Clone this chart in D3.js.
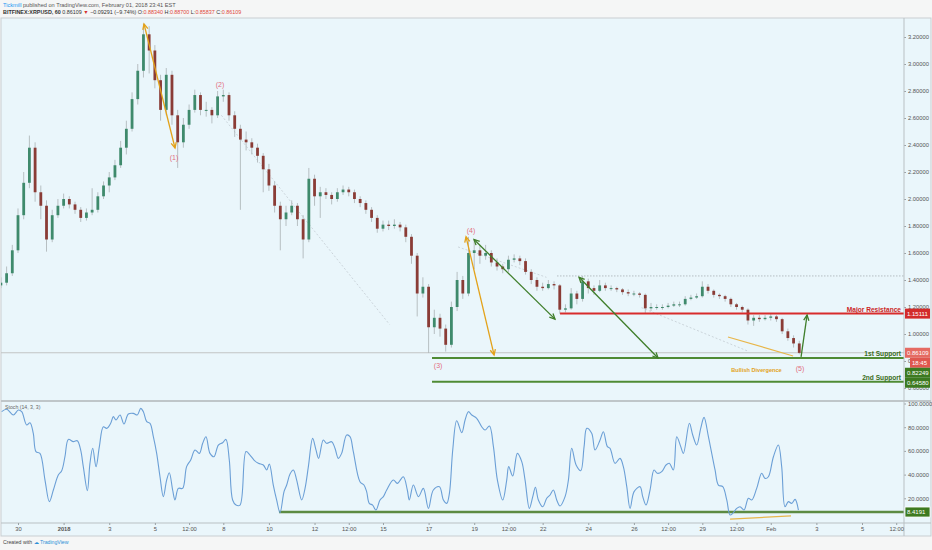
<!DOCTYPE html>
<html>
<head>
<meta charset="utf-8">
<script src="https://cdn.jsdelivr.net/npm/d3@7"></script>
<style>
  body { margin: 0; background: #f5f6f6; }
  svg { display: block; font-family: "Liberation Sans", Arial, sans-serif; }
</style>
</head>
<body>
<div id="chart"></div>
<script>
// ---------- data (hours are counted from 2017-12-29 00:00 UTC) ----------
const startTime = Date.UTC(2017, 11, 29);
const firstBarHour = 6;
const barHours = 6;
const firstOpen = 1.36;

const closes = [1.38,1.45,1.62,1.88,2.12,2.38,2.05,1.95,1.70,1.88,
  1.95,2.00,1.96,1.92,1.86,1.90,1.92,2.02,2.10,2.16,
  2.25,2.38,2.52,2.74,2.95,3.22,3.10,2.88,2.66,2.92,
  2.62,2.42,2.55,2.66,2.77,2.66,2.66,2.62,2.76,2.77,
  2.62,2.52,2.44,2.42,2.38,2.32,2.22,2.10,1.95,1.85,
  1.90,1.95,1.85,1.70,2.15,2.02,2.05,2.03,2.00,2.05,
  2.07,2.05,2.00,1.97,1.92,1.86,1.78,1.81,1.80,1.81,
  1.79,1.72,1.58,1.30,1.35,1.05,1.12,1.04,0.92,1.20,
  1.40,1.30,1.60,1.62,1.58,1.60,1.53,1.50,1.48,1.55,
  1.56,1.54,1.46,1.40,1.35,1.34,1.37,1.36,1.18,1.19,
  1.30,1.26,1.39,1.34,1.32,1.36,1.34,1.34,1.33,1.31,
  1.30,1.30,1.29,1.19,1.20,1.20,1.20,1.21,1.22,1.22,
  1.26,1.27,1.28,1.35,1.32,1.29,1.28,1.26,1.22,1.20,
  1.18,1.10,1.12,1.11,1.12,1.13,1.11,1.02,0.97,0.93,
  0.86];
const highs = [1.42,1.50,1.66,1.93,2.20,2.47,2.42,2.10,1.99,1.92,
  2.00,2.04,2.02,1.98,1.94,1.93,2.08,2.05,2.13,2.20,
  2.29,2.43,2.58,2.79,3.00,3.30,3.28,3.14,2.92,2.97,
  2.95,2.66,2.60,2.70,2.81,2.79,2.72,2.68,2.80,2.81,
  2.79,2.65,2.55,2.50,2.45,2.41,2.34,2.26,2.13,1.98,
  1.95,1.99,1.97,1.88,2.23,2.18,2.09,2.08,2.05,2.08,
  2.10,2.09,2.07,2.02,1.99,1.94,1.88,1.84,1.84,1.85,
  1.83,1.81,1.74,1.60,1.42,1.37,1.18,1.15,1.07,1.24,
  1.46,1.43,1.72,1.70,1.66,1.66,1.62,1.56,1.52,1.58,
  1.59,1.58,1.56,1.48,1.42,1.38,1.40,1.39,1.37,1.22,
  1.34,1.32,1.43,1.41,1.36,1.40,1.38,1.36,1.35,1.34,
  1.33,1.32,1.31,1.30,1.23,1.22,1.22,1.23,1.24,1.24,
  1.28,1.29,1.30,1.39,1.37,1.33,1.30,1.29,1.27,1.23,
  1.21,1.19,1.14,1.14,1.14,1.15,1.14,1.12,1.04,0.99,
  0.95];
const lows = [1.34,1.36,1.43,1.60,1.85,2.08,1.98,1.85,1.61,1.68,
  1.86,1.93,1.93,1.89,1.83,1.84,1.88,1.90,2.00,2.05,
  2.14,2.23,2.33,2.50,2.70,2.90,2.93,2.82,2.58,2.62,
  2.55,2.23,2.38,2.52,2.64,2.62,2.61,2.56,2.60,2.72,
  2.58,2.46,1.92,2.36,2.33,2.27,2.05,2.06,1.90,1.62,
  1.80,1.88,1.80,1.56,1.68,1.95,1.86,2.00,1.96,1.98,
  2.03,2.02,1.97,1.94,1.89,1.83,1.75,1.76,1.77,1.78,
  1.76,1.68,1.52,1.13,1.27,0.86,1.00,0.98,0.87,0.90,
  1.17,1.26,1.28,1.48,1.52,1.55,1.50,1.47,1.45,1.46,
  1.53,1.51,1.44,1.37,1.32,1.32,1.33,1.33,1.15,1.16,
  1.18,1.22,1.24,1.30,1.29,1.31,1.32,1.32,1.31,1.29,
  1.28,1.28,1.27,1.15,1.17,1.18,1.18,1.19,1.20,1.20,
  1.21,1.25,1.26,1.27,1.30,1.27,1.26,1.24,1.20,1.18,
  1.16,1.07,1.06,1.09,1.10,1.10,1.09,1.00,0.95,0.90,
  0.85];

const stochHours = [6.8,12.1,19.1,24.4,27.9,33.1,36.6,40.1,42.9,47.1,
  52.4,57.0,61.2,66.4,70.0,73.4,77.0,82.2,86.4,89.9,
  92.7,97.0,99.7,102.6,106.1,109.6,113.8,117.3,121.5,124.3,
  127.1,131.3,135.5,140.1,145.3,149.5,153.1,155.9,159.4,162.9,
  166.4,169.9,173.4,176.9,180.4,183.2,186.7,189.2,192.7,197.2,
  201.4,205.7,210.2,214.8,218.3,221.8,226.0,230.2,234.8,239.3,
  242.8,246.3,249.8,253.4,257.6,263.9,268.1,272.3,276.9,282.1,
  285.6,288.4,292.6,296.1,299.7,303.9,306.7,310.2,313.7,317.2,
  322.5,326.0,329.5,334.0,337.5,340.3,345.2,348.7,354.0,357.5,
  361.0,364.5,369.8,373.3,376.8,383.8,388.0,390.8,393.6,397.1,
  400.6,404.9,408.4,411.9,418.9,423.1,429.4,433.6,435.7,440.0,
  445.3,450.5,455.8,461.0,467.4,471.6,475.1,477.9,481.4,485.6,
  490.9,494.4,497.9,501.4,506.6,511.9,515.4,520.0,524.2,528.4,
  534.0,538.2,540.3,544.5,549.4,554.0,557.5,562.0,565.6,568.4,
  571.5,576.1,580.3,583.8,587.3,590.8,594.3,599.6,603.1,606.6,
  611.2,616.1,619.6,622.4,627.6,631.1,636.4,639.9,644.1,646.9,
  652.2,657.4,660.9,664.5,668.0,672.2,678.5,681.3,684.8,689.0,
  693.2,696.7,701.3,705.8,709.3,713.5,717.1,721.3,724.1,730.4,
  733.9,738.1,742.3,745.8,750.4,753.9,757.4,760.9,765.5,769.7,
  773.2,776.0,780.2,783.7,787.9,792.5,796.0,801.2,806.5,810.0,
  813.5,818.8,824.0,827.5,831.0,834.5,838.0,841.6,845.1];
const stochK = [93.1,95.1,90.3,94.5,93.1,81.9,83.8,74.8,59.4,57.9,
  35.4,17.2,27.0,39.7,43.3,55.1,69.7,67.8,68.6,60.8,
  46.7,26.5,49.5,62.2,46.7,63.6,80.4,79.0,83.3,88.9,
  86.1,90.3,82.7,91.1,91.7,90.3,95.9,93.1,84.7,83.3,
  72.0,57.9,38.2,21.4,35.4,41.6,27.0,18.6,28.4,28.4,
  46.7,52.3,60.8,57.9,66.4,72.0,57.9,55.1,64.9,66.9,
  69.7,52.3,18.6,14.3,14.3,59.4,56.5,52.3,49.5,48.1,
  43.9,48.9,31.2,18.6,7.9,25.6,31.2,40.5,43.9,35.4,
  18.6,28.4,46.7,70.6,60.8,53.7,69.2,66.4,67.8,62.2,
  53.7,57.9,73.4,72.0,59.4,34.0,31.2,25.6,15.7,14.3,
  10.1,18.6,21.4,27.0,35.4,32.6,38.2,27.0,18.6,31.2,
  21.4,28.4,11.5,27.0,29.8,18.6,15.7,24.2,60.8,85.5,
  75.4,86.1,93.1,90.3,87.5,80.4,77.6,81.0,63.6,35.4,
  18.6,35.4,46.7,38.8,57.9,50.9,35.4,11.5,21.4,29.3,
  18.6,12.9,20.0,22.8,27.0,18.6,13.5,21.4,35.4,62.2,
  48.1,43.3,63.6,79.0,74.8,60.8,69.2,76.2,63.6,62.2,
  49.5,53.7,46.7,29.8,11.5,25.6,29.8,21.4,14.3,27.0,
  43.9,41.1,42.5,48.1,49.5,43.9,72.0,63.6,57.9,83.3,
  73.4,65.0,79.0,88.3,72.0,57.9,43.9,31.2,29.8,18.6,
  5.9,7.3,11.5,12.9,10.1,20.0,18.6,28.4,41.1,36.8,
  38.2,55.1,65.0,46.7,12.9,17.2,15.7,19.1,10.1];

const priceTicks = [0.6,0.8,1.0,1.2,1.4,1.6,1.8,2.0,2.2,2.4,2.6,2.8,3.0,3.2];
const stochTicks = [20, 40, 60, 80, 100];
const timeTicks = ["2017-12-30T00:00Z","2018-01-01T00:00Z","2018-01-03T00:00Z","2018-01-05T00:00Z",
  "2018-01-06T12:00Z","2018-01-08T00:00Z","2018-01-10T00:00Z","2018-01-12T00:00Z","2018-01-13T12:00Z",
  "2018-01-15T00:00Z","2018-01-17T00:00Z","2018-01-19T00:00Z","2018-01-20T12:00Z","2018-01-22T00:00Z",
  "2018-01-24T00:00Z","2018-01-26T00:00Z","2018-01-27T12:00Z","2018-01-29T00:00Z","2018-01-30T12:00Z",
  "2018-02-01T00:00Z","2018-02-03T00:00Z","2018-02-05T00:00Z","2018-02-06T12:00Z"];
const timeTickLabels = ["30","2018","3","5","12:00","8","10","12","12:00","15","17","19","12:00",
  "22","24","26","12:00","29","12:00","Feb","3","5","12:00"];

const lastPrice = 0.86109;
const resistance = 1.15111;
const support1 = 0.82249;
const support2 = 0.64580;
const boxTop = 1.43;
const stochSupport = 8.4191;

// annotations in data units: [hour, price]
const yellowArrows = [[[156.6, 3.296], [189.2, 2.378]], [[495.4, 1.72], [524.9, 0.845]]];
const greenArrows = [[[503.8, 1.70], [589.0, 1.11]], [[614.3, 1.42], [697.4, 0.822]]];
const upArrow = [[847.9, 0.83], [854.2, 1.14]];
const divergencePrice = [[771.0, 0.978], [839.5, 0.837]];
const divergenceStoch = [[773.2, 2.5], [837.3, 5.1]];
const faintLines = [[[238, 2.62], [415, 1.07]], [[487, 1.645], [580, 1.42]], [[680, 1.195], [793, 0.87]]];
const waveLabels = [["(1)", 188.1, 2.31], ["(2)", 236.5, 2.85], ["(3)", 466, 0.763], ["(4)", 500.6, 1.77], ["(5)", 846.8, 0.748]];
const levelStart = {resistance: 594.3, support: 459.6, box: 591.1, stoch: 298.6};

// ---------- layout ----------
const W = 932, H = 550;
const pane = {left: 1, right: 904, top: 18, mainBottom: 400, stochTop: 402, bottom: 523};
const hourToDate = h => new Date(startTime + h * 3600000);

const x = d3.scaleUtc()
  .domain([new Date(Date.UTC(2017, 11, 30)), new Date(Date.UTC(2018, 1, 5))])
  .range([18, 862]);
const y = d3.scaleLinear().domain([0.6, 3.2]).range([388, 37]);
const ys = d3.scaleLinear().domain([0, 100]).range([522, 403.5]);

const candles = closes.map((c, i) => ({
  t: hourToDate(firstBarHour + i * barHours),
  o: i === 0 ? firstOpen : closes[i - 1],
  h: highs[i], l: lows[i], c: c
}));

const svg = d3.select("#chart").append("svg").attr("width", W).attr("height", H);

svg.append("rect").attr("width", W).attr("height", H).attr("fill", "#f5f6f6");
svg.append("rect").attr("x", pane.left).attr("y", pane.top)
  .attr("width", W - 2).attr("height", pane.bottom - pane.top + 13)
  .attr("fill", "#eaf6fb").attr("stroke", "#c9ced1");

const defs = svg.append("defs");
defs.append("clipPath").attr("id", "clipMain").append("rect")
  .attr("x", pane.left).attr("y", pane.top).attr("width", pane.right - pane.left).attr("height", pane.mainBottom - pane.top);
defs.append("clipPath").attr("id", "clipStoch").append("rect")
  .attr("x", pane.left).attr("y", pane.stochTop).attr("width", pane.right - pane.left).attr("height", pane.bottom - pane.stochTop);

// header
const head1 = svg.append("text").attr("x", 3).attr("y", 7).attr("font-size", 5.6).attr("fill", "#555");
head1.append("tspan").attr("fill", "#2196f3").text("Tickmill");
head1.append("tspan").text(" published on TradingView.com, February 01, 2018 23:41 EST");
const head2 = svg.append("text").attr("x", 3).attr("y", 14).attr("font-size", 5.4).attr("fill", "#333");
head2.append("tspan").attr("font-weight", "bold").text("BITFINEX:XRPUSD, 60 ");
head2.append("tspan").text("0.86109 ");
head2.append("tspan").attr("fill", "#d32f2f").text("▼");
head2.append("tspan").text(" −0.09291 (−9.74%) O:");
head2.append("tspan").attr("fill", "#e0473a").text("0.88340");
head2.append("tspan").text(" H:");
head2.append("tspan").attr("fill", "#e0473a").text("0.88700");
head2.append("tspan").text(" L:");
head2.append("tspan").attr("fill", "#e0473a").text("0.85837");
head2.append("tspan").text(" C:");
head2.append("tspan").attr("fill", "#e0473a").text("0.86109");

// ---------- main pane ----------
const main = svg.append("g").attr("clip-path", "url(#clipMain)");

const pt = p => [x(hourToDate(p[0])), y(p[1])];

faintLines.forEach(l => {
  main.append("line")
    .attr("x1", pt(l[0])[0]).attr("y1", pt(l[0])[1]).attr("x2", pt(l[1])[0]).attr("y2", pt(l[1])[1])
    .attr("stroke", "#c3ccd2").attr("stroke-width", 0.8).attr("stroke-dasharray", "2,2");
});

// last price line
main.append("line").attr("x1", pane.left).attr("x2", pane.right)
  .attr("y1", y(lastPrice)).attr("y2", y(lastPrice)).attr("stroke", "#c2c4c4").attr("stroke-width", 1);

// dotted box top
main.append("line").attr("x1", x(hourToDate(levelStart.box))).attr("x2", pane.right)
  .attr("y1", y(boxTop)).attr("y2", y(boxTop)).attr("stroke", "#a9b0b4").attr("stroke-width", 0.8)
  .attr("stroke-dasharray", "1.5,1.5");

// candles
const bw = 2.8;
main.append("g").selectAll("line").data(candles).join("line")
  .attr("x1", d => x(d.t)).attr("x2", d => x(d.t))
  .attr("y1", d => y(d.h)).attr("y2", d => y(d.l))
  .attr("stroke", "#a9b1b4").attr("stroke-width", 0.8);
main.append("g").selectAll("rect").data(candles).join("rect")
  .attr("x", d => x(d.t) - bw / 2).attr("width", bw)
  .attr("y", d => y(Math.max(d.o, d.c)))
  .attr("height", d => Math.max(1, Math.abs(y(d.o) - y(d.c))))
  .attr("fill", d => d.c >= d.o ? "#3f8a6c" : "#8a3c36");

// levels
function level(g, value, scale, start, color, width) {
  g.append("line").attr("x1", x(hourToDate(start))).attr("x2", pane.right)
    .attr("y1", scale(value)).attr("y2", scale(value))
    .attr("stroke", color).attr("stroke-width", width);
}
level(main, resistance, y, levelStart.resistance, "#d82c2c", 2);
level(main, support1, y, levelStart.support, "#4f8b34", 2);
level(main, support2, y, levelStart.support, "#4f8b34", 2);

// arrows
function head(g, from, to, color) {
  const a = Math.atan2(to[1] - from[1], to[0] - from[0]);
  const len = 6, spread = 0.45;
  const p1 = [to[0] - len * Math.cos(a - spread), to[1] - len * Math.sin(a - spread)];
  const p2 = [to[0] - len * Math.cos(a + spread), to[1] - len * Math.sin(a + spread)];
  g.append("path").attr("d", `M${p1}L${to}L${p2}`)
    .attr("fill", "none").attr("stroke", color).attr("stroke-width", 1.3);
}
function arrow(g, seg, color, both) {
  const a = pt(seg[0]), b = pt(seg[1]);
  g.append("line").attr("x1", a[0]).attr("y1", a[1]).attr("x2", b[0]).attr("y2", b[1])
    .attr("stroke", color).attr("stroke-width", 1.3);
  head(g, a, b, color);
  if (both) head(g, b, a, color);
}
yellowArrows.forEach(s => arrow(main, s, "#e3a21a", true));
greenArrows.forEach(s => arrow(main, s, "#3f7e2a", true));
arrow(main, upArrow, "#3f7e2a", false);

main.append("line")
  .attr("x1", pt(divergencePrice[0])[0]).attr("y1", pt(divergencePrice[0])[1])
  .attr("x2", pt(divergencePrice[1])[0]).attr("y2", pt(divergencePrice[1])[1])
  .attr("stroke", "#e8b64a").attr("stroke-width", 1.2);

main.selectAll(".wave").data(waveLabels).join("text")
  .attr("x", d => x(hourToDate(d[1]))).attr("y", d => y(d[2]) + 2.5)
  .attr("text-anchor", "middle").attr("font-size", 7).attr("fill", "#e2707f")
  .text(d => d[0]);

// level captions
const cap = (txt, value, color) => main.append("text")
  .attr("x", pane.right - 3).attr("y", y(value) - 1.5).attr("text-anchor", "end")
  .attr("font-size", 6.6).attr("font-weight", "bold").attr("fill", color).text(txt);
cap("Major Resistance", resistance, "#cc2424");
cap("1st Support", support1, "#3a6d22");
cap("2nd Support", support2, "#3a6d22");

main.append("text").attr("x", x(hourToDate(801))).attr("y", y(0.72))
  .attr("text-anchor", "middle").attr("font-size", 5.6).attr("font-weight", "bold")
  .attr("fill", "#e3a21a").text("Bullish Divergence");

// ---------- stochastic pane ----------
svg.append("line").attr("x1", pane.left).attr("x2", W - 1)
  .attr("y1", pane.mainBottom + 1).attr("y2", pane.mainBottom + 1)
  .attr("stroke", "#bfc6c9").attr("stroke-width", 2);

const st = svg.append("g").attr("clip-path", "url(#clipStoch)");
level(st, stochSupport, ys, levelStart.stoch, "#5c8b43", 2.6);
const stochPts = stochHours.map((h, i) => [hourToDate(h), stochK[i]]);
st.append("path").datum(stochPts)
  .attr("d", d3.line().x(d => x(d[0])).y(d => ys(d[1])).curve(d3.curveCatmullRom.alpha(0.5)))
  .attr("fill", "none").attr("stroke", "#6b9fd6").attr("stroke-width", 1.1);
st.append("line")
  .attr("x1", x(hourToDate(divergenceStoch[0][0]))).attr("y1", ys(divergenceStoch[0][1]))
  .attr("x2", x(hourToDate(divergenceStoch[1][0]))).attr("y2", ys(divergenceStoch[1][1]))
  .attr("stroke", "#e8b64a").attr("stroke-width", 1.2);
svg.append("text").attr("x", 5).attr("y", 409).attr("font-size", 5.2).attr("fill", "#666")
  .text("Stoch (14, 3, 3)");

// ---------- axes ----------
function styleAxis(g) {
  g.select(".domain").attr("stroke", "#b9c0c3");
  g.selectAll(".tick line").attr("stroke", "#9aa1a4");
  g.selectAll(".tick text").attr("fill", "#555").attr("font-size", 5.8)
    .attr("font-family", "Liberation Sans, Arial, sans-serif");
}
svg.append("g").attr("transform", `translate(${pane.right},0)`)
  .call(d3.axisRight(y).tickValues(priceTicks).tickSize(2).tickPadding(2).tickFormat(d3.format(".5f")))
  .call(g => g.select(".domain").remove())
  .call(styleAxis);
svg.append("g").attr("transform", `translate(${pane.right},0)`)
  .call(d3.axisRight(ys).tickValues(stochTicks).tickSize(2).tickPadding(2).tickFormat(d3.format(".4f")))
  .call(g => g.select(".domain").remove())
  .call(styleAxis);
svg.append("line").attr("x1", pane.right).attr("x2", pane.right).attr("y1", pane.top).attr("y2", pane.bottom + 13)
  .attr("stroke", "#b9c0c3");

const tickDates = timeTicks.map(s => new Date(s));
svg.append("g").attr("transform", `translate(0,${pane.bottom})`)
  .call(d3.axisBottom(x).tickValues(tickDates).tickSize(2).tickPadding(2)
    .tickFormat((d, i) => timeTickLabels[i]))
  .call(g => g.select(".domain").attr("d", `M${pane.left},0H${W - 1}`))
  .call(styleAxis)
  .call(g => g.selectAll(".tick text").filter((d, i) => timeTickLabels[i] === "2018").attr("font-weight", "bold"));

// ---------- price tags on the axis ----------
function tag(txt, yPos, fill, x0, outline) {
  const g = svg.append("g");
  g.append("rect").attr("x", x0).attr("y", yPos - 5).attr("width", W - 2 - x0).attr("height", 10)
    .attr("fill", fill).attr("stroke", outline ? "#ffffff" : "none").attr("stroke-width", 0.8);
  g.append("text").attr("x", x0 + 2).attr("y", yPos + 2).attr("font-size", 6).attr("fill", "#fff").text(txt);
}
const tags = [
  {txt: "1.15111", v: resistance, fill: "#d32b2b", x0: pane.right + 1},
  {txt: "0.86109", v: lastPrice, fill: "#e56b63", x0: pane.right + 1},
  {txt: "18:45", v: lastPrice, fill: "#e0574f", x0: pane.right + 6, below: true},
  {txt: "0.82249", v: support1, fill: "#3d7a20", x0: pane.right + 1},
  {txt: "0.64580", v: support2, fill: "#3d7a20", x0: pane.right + 1}
];
let prev = -Infinity;
tags.forEach(t => {
  let yy = y(t.v) + (t.below ? 10 : 0);
  if (yy < prev + 10) yy = prev + 10;
  prev = yy;
  tag(t.txt, yy, t.fill, t.x0, false);
});
tag("8.4191", ys(stochSupport), "#3d7a20", pane.right + 1, true);

// footer
const foot = svg.append("text").attr("x", 3).attr("y", 544).attr("font-size", 5.2).attr("fill", "#444");
foot.append("tspan").text("Created with ");
foot.append("tspan").attr("fill", "#2c8fd6").text("☁ TradingView");
</script>
</body>
</html>
